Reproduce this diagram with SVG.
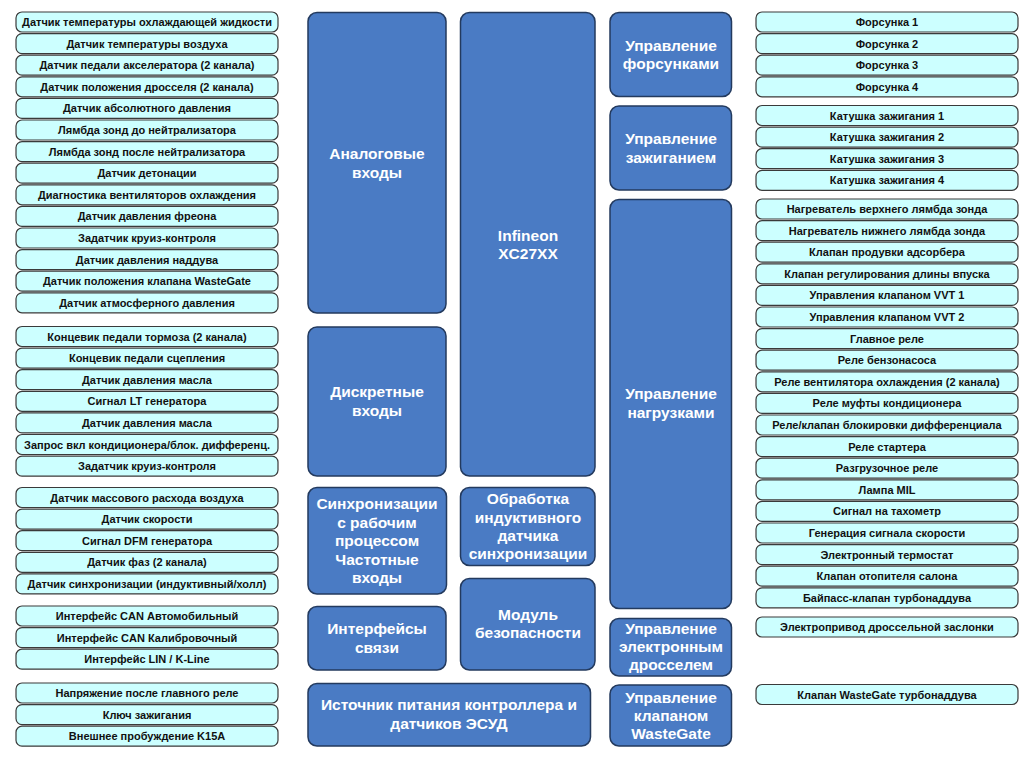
<svg xmlns="http://www.w3.org/2000/svg" width="1035" height="766" viewBox="0 0 1035 766">
<style>
.s rect{fill:#ccffff;stroke:#3a3a3a;stroke-width:1.2}
.s text{font-family:"Liberation Sans",Arial,sans-serif;font-size:11px;font-weight:bold;fill:#111;text-anchor:middle}
.b rect{fill:#4a7bc4;stroke:#233a5e;stroke-width:1.5}
.b text{font-family:"Liberation Sans",Arial,sans-serif;font-size:15.5px;font-weight:bold;fill:#fff;text-anchor:middle}
</style>
<rect width="1035" height="766" fill="#fff"/>
<g id="connectors"/>
<!-- Left column -->
<g id="l1" class="s"><rect x="16" y="12" width="262" height="20" rx="6"/><text x="147" y="26">Датчик температуры охлаждающей жидкости</text></g>
<g id="l2" class="s"><rect x="16" y="33.6" width="262" height="20" rx="6"/><text x="147" y="47.6">Датчик температуры воздуха</text></g>
<g id="l3" class="s"><rect x="16" y="55.2" width="262" height="20" rx="6"/><text x="147" y="69.2">Датчик педали акселератора (2 канала)</text></g>
<g id="l4" class="s"><rect x="16" y="76.8" width="262" height="20" rx="6"/><text x="147" y="90.8">Датчик положения дросселя (2 канала)</text></g>
<g id="l5" class="s"><rect x="16" y="98.4" width="262" height="20" rx="6"/><text x="147" y="112.4">Датчик абсолютного давления</text></g>
<g id="l6" class="s"><rect x="16" y="120" width="262" height="20" rx="6"/><text x="147" y="134">Лямбда зонд до нейтрализатора</text></g>
<g id="l7" class="s"><rect x="16" y="141.6" width="262" height="20" rx="6"/><text x="147" y="155.6">Лямбда зонд после нейтрализатора</text></g>
<g id="l8" class="s"><rect x="16" y="163.2" width="262" height="20" rx="6"/><text x="147" y="177.2">Датчик детонации</text></g>
<g id="l9" class="s"><rect x="16" y="184.8" width="262" height="20" rx="6"/><text x="147" y="198.8">Диагностика вентиляторов охлаждения</text></g>
<g id="l10" class="s"><rect x="16" y="206.4" width="262" height="20" rx="6"/><text x="147" y="220.4">Датчик давления фреона</text></g>
<g id="l11" class="s"><rect x="16" y="228" width="262" height="20" rx="6"/><text x="147" y="242">Задатчик круиз-контроля</text></g>
<g id="l12" class="s"><rect x="16" y="249.6" width="262" height="20" rx="6"/><text x="147" y="263.6">Датчик давления наддува</text></g>
<g id="l13" class="s"><rect x="16" y="271.2" width="262" height="20" rx="6"/><text x="147" y="285.2">Датчик положения клапана WasteGate</text></g>
<g id="l14" class="s"><rect x="16" y="292.8" width="262" height="20" rx="6"/><text x="147" y="306.8">Датчик атмосферного давления</text></g>

<g id="l15" class="s"><rect x="16" y="326.5" width="262" height="20" rx="6"/><text x="147" y="340.5">Концевик педали тормоза (2 канала)</text></g>
<g id="l16" class="s"><rect x="16" y="348.1" width="262" height="20" rx="6"/><text x="147" y="362.1">Концевик педали сцепления</text></g>
<g id="l17" class="s"><rect x="16" y="369.7" width="262" height="20" rx="6"/><text x="147" y="383.7">Датчик давления масла</text></g>
<g id="l18" class="s"><rect x="16" y="391.3" width="262" height="20" rx="6"/><text x="147" y="405.3">Сигнал LT генератора</text></g>
<g id="l19" class="s"><rect x="16" y="412.9" width="262" height="20" rx="6"/><text x="147" y="426.9">Датчик давления масла</text></g>
<g id="l20" class="s"><rect x="16" y="434.5" width="262" height="20" rx="6"/><text x="147" y="448.5">Запрос вкл кондиционера/блок. дифференц.</text></g>
<g id="l21" class="s"><rect x="16" y="456.1" width="262" height="20" rx="6"/><text x="147" y="470.1">Задатчик круиз-контроля</text></g>

<g id="l22" class="s"><rect x="16" y="487.5" width="262" height="20" rx="6"/><text x="147" y="501.5">Датчик массового расхода воздуха</text></g>
<g id="l23" class="s"><rect x="16" y="509.1" width="262" height="20" rx="6"/><text x="147" y="523.1">Датчик скорости</text></g>
<g id="l24" class="s"><rect x="16" y="530.7" width="262" height="20" rx="6"/><text x="147" y="544.7">Сигнал DFM генератора</text></g>
<g id="l25" class="s"><rect x="16" y="552.3" width="262" height="20" rx="6"/><text x="147" y="566.3">Датчик фаз (2 канала)</text></g>
<g id="l26" class="s"><rect x="16" y="573.9" width="262" height="20" rx="6"/><text x="147" y="587.9">Датчик синхронизации (индуктивный/холл)</text></g>

<g id="l27" class="s"><rect x="16" y="606" width="262" height="20" rx="6"/><text x="147" y="620">Интерфейс CAN Автомобильный</text></g>
<g id="l28" class="s"><rect x="16" y="627.6" width="262" height="20" rx="6"/><text x="147" y="641.6">Интерфейс CAN Калибровочный</text></g>
<g id="l29" class="s"><rect x="16" y="649.2" width="262" height="20" rx="6"/><text x="147" y="663.2">Интерфейс LIN / K-Line</text></g>

<g id="l30" class="s"><rect x="16" y="683" width="262" height="20" rx="6"/><text x="147" y="697">Напряжение после главного реле</text></g>
<g id="l31" class="s"><rect x="16" y="704.6" width="262" height="20" rx="6"/><text x="147" y="718.6">Ключ зажигания</text></g>
<g id="l32" class="s"><rect x="16" y="726.2" width="262" height="20" rx="6"/><text x="147" y="740.2">Внешнее пробуждение K15A</text></g>

<!-- Center blocks -->
<g id="analog" class="b"><rect x="308" y="12.5" width="138" height="300.5" rx="9"/><text x="377" y="159">Аналоговые</text><text x="377" y="178">входы</text></g>
<g id="discrete" class="b"><rect x="308" y="327" width="138" height="149" rx="9"/><text x="377" y="397">Дискретные</text><text x="377" y="416">входы</text></g>
<g id="sync" class="b"><rect x="308" y="487.5" width="138.5" height="106.5" rx="9"/><text x="377" y="509">Синхронизации</text><text x="377" y="527.5">с рабочим</text><text x="377" y="546">процессом</text><text x="377" y="564.5">Частотные</text><text x="377" y="583">входы</text></g>
<g id="iface" class="b"><rect x="308" y="606.5" width="138" height="63.5" rx="9"/><text x="377" y="634">Интерфейсы</text><text x="377" y="653">связи</text></g>
<g id="power" class="b"><rect x="308" y="683.5" width="282.5" height="62.5" rx="9"/><text x="449" y="710">Источник питания контроллера и</text><text x="449" y="728.5">датчиков ЭСУД</text></g>
<g id="mcu" class="b"><rect x="460.5" y="12.5" width="134.5" height="463.5" rx="9"/><text x="528" y="240.5">Infineon</text><text x="528" y="259">XC27XX</text></g>
<g id="induct" class="b"><rect x="460.5" y="487.5" width="134.5" height="78" rx="9"/><text x="528" y="504">Обработка</text><text x="528" y="522.5">индуктивного</text><text x="528" y="541">датчика</text><text x="528" y="559">синхронизации</text></g>
<g id="safety" class="b"><rect x="460.5" y="578.5" width="134.5" height="91.5" rx="9"/><text x="528" y="619.5">Модуль</text><text x="528" y="638">безопасности</text></g>
<g id="inj" class="b"><rect x="610" y="12.5" width="121.5" height="84" rx="9"/><text x="671" y="51">Управление</text><text x="671" y="69">форсунками</text></g>
<g id="ign" class="b"><rect x="610" y="106" width="121.5" height="84" rx="9"/><text x="671" y="143.5">Управление</text><text x="671" y="162.5">зажиганием</text></g>
<g id="loads" class="b"><rect x="610" y="199.5" width="121.5" height="409" rx="9"/><text x="671" y="398.5">Управление</text><text x="671" y="417.5">нагрузками</text></g>
<g id="throttle" class="b"><rect x="610" y="618.5" width="121.5" height="57.5" rx="9"/><text x="671" y="633.5">Управление</text><text x="671" y="651.5">электронным</text><text x="671" y="670">дросселем</text></g>
<g id="wg" class="b"><rect x="610" y="685" width="121.5" height="61" rx="9"/><text x="671" y="702.5">Управление</text><text x="671" y="720.5">клапаном</text><text x="671" y="739">WasteGate</text></g>

<!-- Right column -->
<g id="r1" class="s"><rect x="756" y="12" width="262" height="20" rx="6"/><text x="887" y="26">Форсунка 1</text></g>
<g id="r2" class="s"><rect x="756" y="33.6" width="262" height="20" rx="6"/><text x="887" y="47.6">Форсунка 2</text></g>
<g id="r3" class="s"><rect x="756" y="55.2" width="262" height="20" rx="6"/><text x="887" y="69.2">Форсунка 3</text></g>
<g id="r4" class="s"><rect x="756" y="76.8" width="262" height="20" rx="6"/><text x="887" y="90.8">Форсунка 4</text></g>

<g id="r5" class="s"><rect x="756" y="105.5" width="262" height="20" rx="6"/><text x="887" y="119.5">Катушка зажигания 1</text></g>
<g id="r6" class="s"><rect x="756" y="127.1" width="262" height="20" rx="6"/><text x="887" y="141.1">Катушка зажигания 2</text></g>
<g id="r7" class="s"><rect x="756" y="148.7" width="262" height="20" rx="6"/><text x="887" y="162.7">Катушка зажигания 3</text></g>
<g id="r8" class="s"><rect x="756" y="170.3" width="262" height="20" rx="6"/><text x="887" y="184.3">Катушка зажигания 4</text></g>

<g id="r9" class="s"><rect x="756" y="199" width="262" height="20" rx="6"/><text x="887" y="213">Нагреватель верхнего лямбда зонда</text></g>
<g id="r10" class="s"><rect x="756" y="220.6" width="262" height="20" rx="6"/><text x="887" y="234.6">Нагреватель нижнего лямбда зонда</text></g>
<g id="r11" class="s"><rect x="756" y="242.2" width="262" height="20" rx="6"/><text x="887" y="256.2">Клапан продувки адсорбера</text></g>
<g id="r12" class="s"><rect x="756" y="263.8" width="262" height="20" rx="6"/><text x="887" y="277.8">Клапан регулирования длины впуска</text></g>
<g id="r13" class="s"><rect x="756" y="285.4" width="262" height="20" rx="6"/><text x="887" y="299.4">Управления клапаном VVT 1</text></g>
<g id="r14" class="s"><rect x="756" y="307" width="262" height="20" rx="6"/><text x="887" y="321">Управления клапаном VVT 2</text></g>
<g id="r15" class="s"><rect x="756" y="328.6" width="262" height="20" rx="6"/><text x="887" y="342.6">Главное реле</text></g>
<g id="r16" class="s"><rect x="756" y="350.2" width="262" height="20" rx="6"/><text x="887" y="364.2">Реле бензонасоса</text></g>
<g id="r17" class="s"><rect x="756" y="371.8" width="262" height="20" rx="6"/><text x="887" y="385.8">Реле вентилятора охлаждения (2 канала)</text></g>
<g id="r18" class="s"><rect x="756" y="393.4" width="262" height="20" rx="6"/><text x="887" y="407.4">Реле муфты кондиционера</text></g>
<g id="r19" class="s"><rect x="756" y="415" width="262" height="20" rx="6"/><text x="887" y="429">Реле/клапан блокировки дифференциала</text></g>
<g id="r20" class="s"><rect x="756" y="436.6" width="262" height="20" rx="6"/><text x="887" y="450.6">Реле стартера</text></g>
<g id="r21" class="s"><rect x="756" y="458.2" width="262" height="20" rx="6"/><text x="887" y="472.2">Разгрузочное реле</text></g>
<g id="r22" class="s"><rect x="756" y="479.8" width="262" height="20" rx="6"/><text x="887" y="493.8">Лампа MIL</text></g>
<g id="r23" class="s"><rect x="756" y="501.4" width="262" height="20" rx="6"/><text x="887" y="515.4">Сигнал на тахометр</text></g>
<g id="r24" class="s"><rect x="756" y="523" width="262" height="20" rx="6"/><text x="887" y="537">Генерация сигнала скорости</text></g>
<g id="r25" class="s"><rect x="756" y="544.6" width="262" height="20" rx="6"/><text x="887" y="558.6">Электронный термостат</text></g>
<g id="r26" class="s"><rect x="756" y="566.2" width="262" height="20" rx="6"/><text x="887" y="580.2">Клапан отопителя салона</text></g>
<g id="r27" class="s"><rect x="756" y="587.8" width="262" height="20" rx="6"/><text x="887" y="601.8">Байпасс-клапан турбонаддува</text></g>

<g id="r28" class="s"><rect x="756" y="617" width="262" height="20" rx="6"/><text x="887" y="631">Электропривод дроссельной заслонки</text></g>
<g id="r29" class="s"><rect x="756" y="684.5" width="262" height="20" rx="6"/><text x="887" y="698.5">Клапан WasteGate турбонаддува</text></g>
</svg>
